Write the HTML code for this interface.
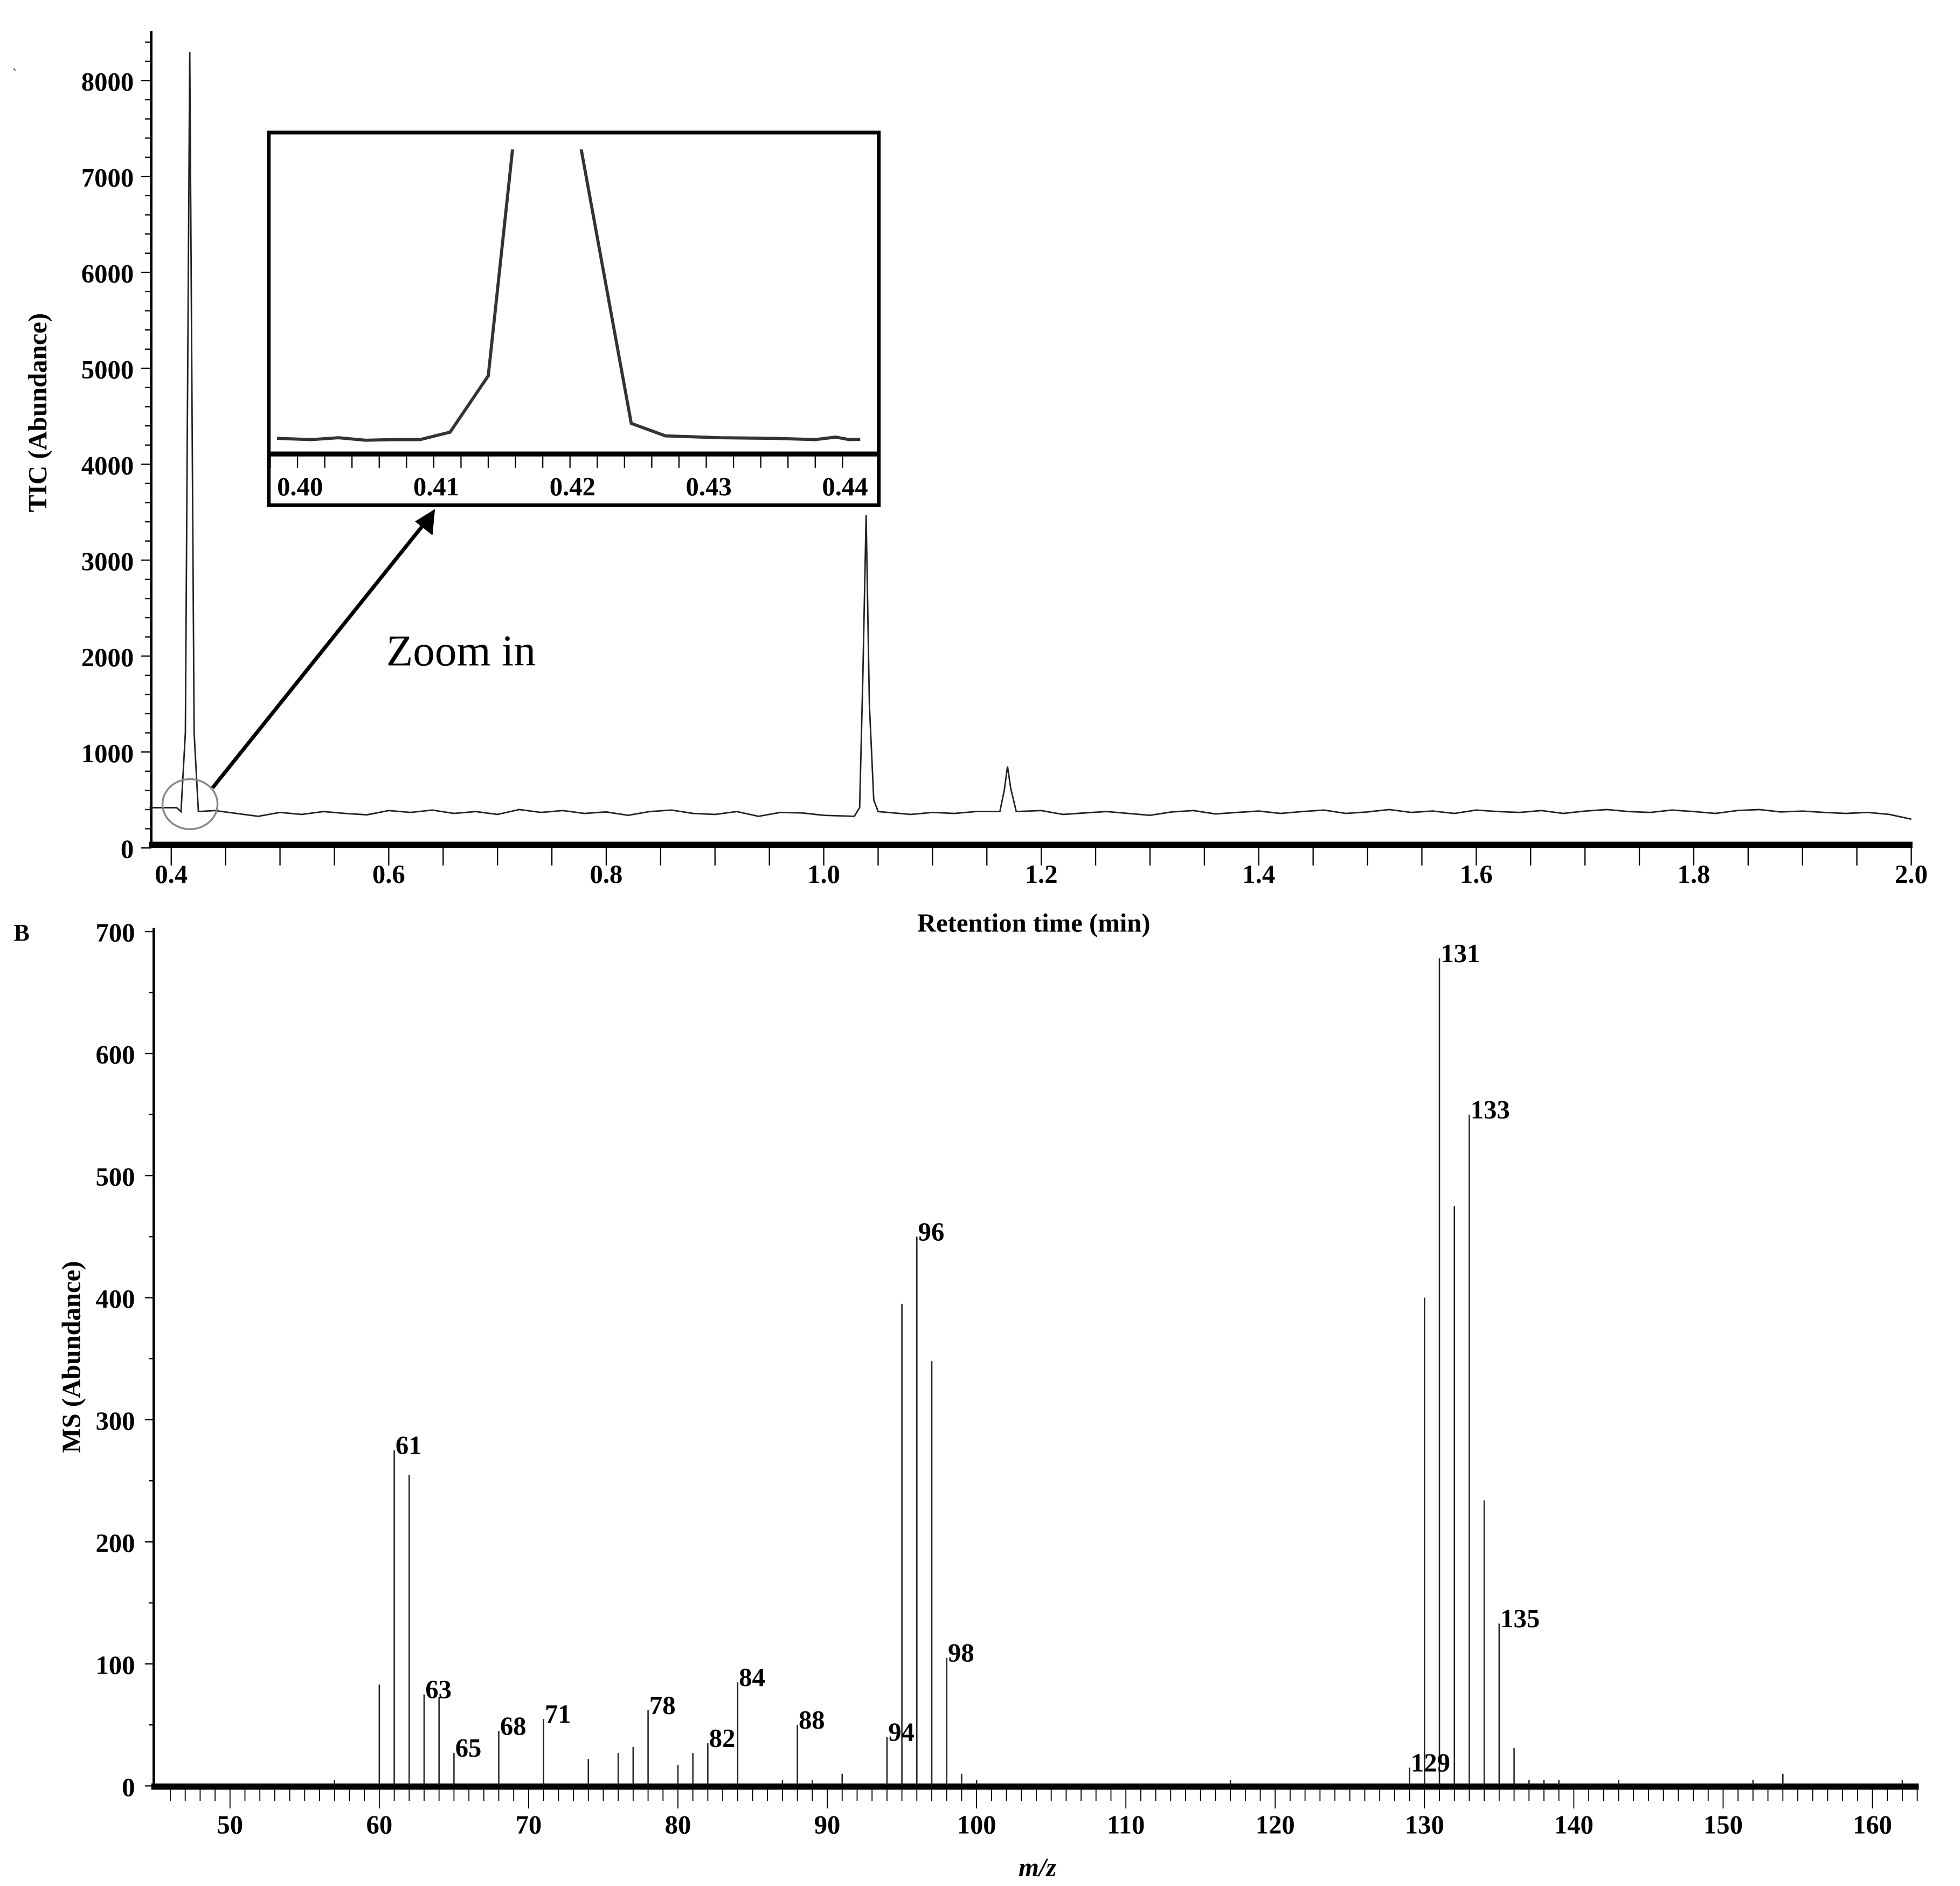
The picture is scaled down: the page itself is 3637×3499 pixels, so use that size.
<!DOCTYPE html>
<html><head><meta charset="utf-8"><style>
html,body{margin:0;padding:0;background:#fff;}
svg{display:block;}
text{font-family:"Liberation Serif",serif;}
</style></head><body>
<svg id="fig" xmlns="http://www.w3.org/2000/svg" width="3637" height="3499" viewBox="0 0 1568 1508" preserveAspectRatio="none">
<rect x="0" y="0" width="1568" height="1508" fill="#fff"/>
<g id="gtop"></g>
<g id="ginset"></g>
<g id="gbot"></g>
</svg>
<script>
// ---- TIC chromatogram data ----
const ticBaseTimes = [];
for (let i = 0; i <= 81; i++) ticBaseTimes.push(+(0.38 + i * 0.02).toFixed(2));
const ticBaseValues = [420,380,350,390,360,330,370,350,380,360,345,390,370,395,360,380,350,400,370,390,360,375,340,380,395,360,350,380,330,370,365,340,370,360,385,350,370,360,380,345,370,390,350,365,380,360,340,375,390,355,370,385,360,380,395,360,375,400,370,385,360,395,380,370,390,360,385,400,380,370,395,380,360,390,400,375,385,370,360,370,350,300];
const ticPeakTimes = [0.405,0.409,0.413,0.417,0.421,0.425,1.028,1.033,1.036,1.039,1.042,1.046,1.05,1.162,1.166,1.169,1.172,1.177];
const ticPeakValues = [420,380,1200,8300,1200,380,330,420,1800,3470,1500,500,380,380,600,850,620,380];
const ticYTicks = [0,1000,2000,3000,4000,5000,6000,7000,8000];
const ticXTicks = [0.4,0.6,0.8,1.0,1.2,1.4,1.6,1.8,2.0];
// ---- inset data ----
const insetTimes = [0.3985,0.401,0.403,0.405,0.407,0.409,0.4112,0.414,0.4158,0.4208,0.4245,0.427,0.431,0.435,0.438,0.4395,0.4405,0.4413];
const insetValues = [380,370,385,365,370,370,430,880,2705,2705,500,400,385,380,370,390,370,372];
const insetXTicks = [0.40,0.41,0.42,0.43,0.44];
// ---- mass spectrum data ----
const msMz = [57,60,61,62,63,64,65,68,71,74,76,77,78,80,81,82,84,87,88,89,91,94,95,96,97,98,99,100,117,129,130,131,132,133,134,135,136,137,138,139,143,152,154,162];
const msAbund = [5,83,275,255,75,73,27,45,55,22,27,32,62,17,27,35,85,5,50,5,10,40,395,450,348,105,10,5,5,15,400,678,475,550,234,133,31,5,5,5,5,5,10,5];
const msLabels = [61,63,65,68,71,78,82,84,88,94,96,98,129,131,133,135];
const msYTicks = [0,100,200,300,400,500,600,700];
const msXTicks = [50,60,70,80,90,100,110,120,130,140,150,160];

const NS = "http://www.w3.org/2000/svg";
function mk(parent, tag, attrs, txt) {
  const e = document.createElementNS(NS, tag);
  for (const k in attrs) e.setAttribute(k, attrs[k]);
  if (txt !== undefined) e.textContent = txt;
  parent.appendChild(e);
  return e;
}
const gTop = document.getElementById('gtop');
const gInset = document.getElementById('ginset');
const gBot = document.getElementById('gbot');

// ===== TOP =====
const xT = t => 137 + (t - 0.4) * 870;
const yT = v => 678 - v * 0.0767;
let el;
el = mk(gTop, 'line', {x1:121, y1:25, x2:121, y2:678, stroke:'#000', 'stroke-width':2});


for (let v = 0; v <= 8400; v += 200) {
  const major = v % 1000 === 0;
  el = mk(gTop, 'line', {x1:major?113:116, y1:yT(v), x2:121, y2:yT(v), stroke:'#000', 'stroke-width':1});
  
  
}
ticYTicks.forEach(v => {
  el = mk(gTop, 'text', {x:107, y:yT(v)+8, 'text-anchor':'end', 'font-size':21, 'font-weight':'bold'}, String(v));
  
  
});
el = mk(gTop, 'rect', {x:119, y:673, width:1411, height:5, fill:'#000'});


for (let t = 0.4; t <= 2.0001; t += 0.05) {
  el = mk(gTop, 'line', {x1:xT(t), y1:678, x2:xT(t), y2:692, stroke:'#000', 'stroke-width':1});
  
  
}
ticXTicks.forEach(t => {
  el = mk(gTop, 'text', {x:xT(t), y:706, 'text-anchor':'middle', 'font-size':21, 'font-weight':'bold'}, t.toFixed(1));
  
  
});
el = mk(gTop, 'text', {x:827, y:745, 'text-anchor':'middle', 'font-size':21, 'font-weight':'bold'}, 'Retention time (min)');


el = mk(gTop, 'text', {x:0, y:0, transform:'translate(37,330) rotate(-90)', 'text-anchor':'middle', 'font-size':21, 'font-weight':'bold'}, 'TIC (Abundance)');


let pts = [];
ticBaseTimes.forEach((t,i) => {
  const inPeak = ticPeakTimes.some(p => Math.abs(p - t) < 0.012);
  if (!inPeak) pts.push([t, ticBaseValues[i]]);
});
ticPeakTimes.forEach((t,i) => pts.push([t, ticPeakValues[i]]));
pts.sort((a,b) => a[0]-b[0]);
el = mk(gTop, 'polyline', {points: pts.map(p => xT(p[0]).toFixed(1)+','+yT(p[1]).toFixed(1)).join(' '), fill:'none', stroke:'#222', 'stroke-width':1.2});


el = mk(gTop, 'ellipse', {cx:152, cy:643, rx:22, ry:20, fill:'none', stroke:'#888', 'stroke-width':1.5});


el = mk(gTop, 'line', {x1:170, y1:630, x2:344, y2:413, stroke:'#000', 'stroke-width':3});


el = mk(gTop, 'path', {d:'M348,407 L346,428 L332,417 Z', fill:'#000'});


el = mk(gTop, 'text', {x:309, y:532, 'font-size':35}, 'Zoom in');


el = mk(gTop, 'text', {x:10, y:62, 'font-size':10}, '`');



// ===== INSET =====
const xI = t => 238 + (t - 0.40) * 10900;
const yI = v => 351 - (v - 375) * 0.1;
el = mk(gInset, 'rect', {x:215, y:106, width:488, height:298, fill:'#fff', stroke:'#000', 'stroke-width':3});


const cp = mk(gInset, 'clipPath', {id:'ic'});
mk(cp, 'rect', {x:216, y:119.5, width:486, height:240});
el = mk(gInset, 'polyline', {'clip-path':'url(#ic)', points: insetTimes.map((t,i) => xI(t).toFixed(1)+','+yI(insetValues[i]).toFixed(1)).join(' '), fill:'none', stroke:'#333', 'stroke-width':2.5});


el = mk(gInset, 'rect', {x:216, y:361, width:486, height:4, fill:'#000'});


for (let t = 0.398; t <= 0.4412; t += 0.002) {
  el = mk(gInset, 'line', {x1:xI(t), y1:365, x2:xI(t), y2:374, stroke:'#000', 'stroke-width':1});
  
  
}
insetXTicks.forEach(t => {
  el = mk(gInset, 'text', {x:xI(t)+2, y:396, 'text-anchor':'middle', 'font-size':21, 'font-weight':'bold'}, t.toFixed(2));
  
  
});

// ===== BOTTOM =====
const xB = m => 184 + (m - 50) * 11.945;
const yB = v => 1428 - v * 0.976;
el = mk(gBot, 'line', {x1:123, y1:742, x2:123, y2:1430, stroke:'#000', 'stroke-width':2});


for (let v = 0; v <= 700; v += 50) {
  const major = v % 100 === 0;
  el = mk(gBot, 'line', {x1:major?116:119, y1:yB(v), x2:123, y2:yB(v), stroke:'#000', 'stroke-width':1});
  
  
}
msYTicks.forEach(v => {
  el = mk(gBot, 'text', {x:108, y:yB(v)+8, 'text-anchor':'end', 'font-size':21, 'font-weight':'bold'}, String(v));
  
  
});
el = mk(gBot, 'rect', {x:121, y:1426, width:1414, height:5, fill:'#000'});


for (let m = 46; m <= 163; m++) {
  const major = m % 10 === 0;
  el = mk(gBot, 'line', {x1:xB(m), y1:1431, x2:xB(m), y2:major?1446:1440, stroke:'#000', 'stroke-width':0.8});
  
  
}
msXTicks.forEach(m => {
  el = mk(gBot, 'text', {x:xB(m), y:1466, 'text-anchor':'middle', 'font-size':21, 'font-weight':'bold'}, String(m));
  
  
});
el = mk(gBot, 'text', {x:830, y:1500, 'text-anchor':'middle', 'font-size':21, 'font-weight':'bold', 'font-style':'italic'}, 'm/z');


el = mk(gBot, 'text', {x:0, y:0, transform:'translate(64,1085) rotate(-90)', 'text-anchor':'middle', 'font-size':21, 'font-weight':'bold'}, 'MS (Abundance)');


el = mk(gBot, 'text', {x:11, y:752, 'font-size':19, 'font-weight':'bold'}, 'B');


msMz.forEach((m,i) => {
  el = mk(gBot, 'line', {x1:xB(m), y1:yB(msAbund[i]), x2:xB(m), y2:1427, stroke:'#222', 'stroke-width':1.1});
  
  
});
msLabels.forEach(m => {
  const i = msMz.indexOf(m);
  const v = msAbund[i];
  el = mk(gBot, 'text', {x:xB(m)+1, y:yB(v)+3, 'font-size':21, 'font-weight':'bold'}, String(m));
  
  
});
</script>
</body></html>
